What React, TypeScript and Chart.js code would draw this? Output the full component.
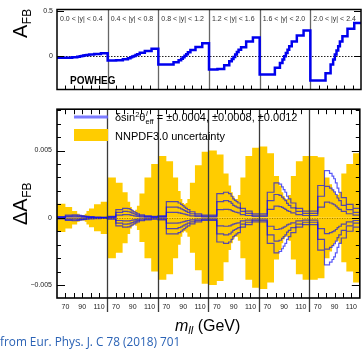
import React, { useEffect, useRef } from "react";
import { Chart, registerables } from "chart.js";
Chart.register(...registerables);

const FONT = "'Liberation Sans', Arial, Helvetica, sans-serif";

// m_ll bin edges (GeV) used in each rapidity bin
const massEdges = [60, 70, 78, 84, 87, 89, 91, 93, 95, 98, 104, 112, 120];
const rapidityBins = [
  "0.0 < |y| < 0.4",
  "0.4 < |y| < 0.8",
  "0.8 < |y| < 1.2",
  "1.2 < |y| < 1.6",
  "1.6 < |y| < 2.0",
  "2.0 < |y| < 2.4",
];
const massTickLabels = [70, 90, 110];
const topYTicks = [0, 0.5];
const bottomYTicks = [-0.005, 0, 0.005];

// POWHEG A_FB per rapidity bin
const afbPowheg = [
  [-0.02, -0.02, -0.014, -0.008, -0.004, 0.0, 0.004, 0.008, 0.011, 0.016, 0.022, 0.03],
  [-0.05, -0.048, -0.035, -0.024, -0.015, -0.007, 0.001, 0.01, 0.02, 0.035, 0.055, 0.08],
  [-0.095, -0.095, -0.068, -0.048, -0.03, -0.015, 0.002, 0.02, 0.04, 0.065, 0.1, 0.14],
  [-0.15, -0.143, -0.103, -0.059, -0.033, -0.011, 0.015, 0.044, 0.07, 0.095, 0.16, 0.205],
  [-0.205, -0.205, -0.13, -0.077, -0.04, -0.004, 0.033, 0.07, 0.107, 0.16, 0.225, 0.28],
  [-0.27, -0.27, -0.19, -0.095, -0.04, 0.015, 0.06, 0.107, 0.16, 0.217, 0.3, 0.365],
];

// NNPDF3.0 uncertainty (symmetric half-width)
const nnpdfUnc = [
  [0.00105, 0.0008, 0.0005, 0.0003, 0.0002, 0.0002, 0.0002, 0.0003, 0.0005, 0.0007, 0.001, 0.0012],
  [0.003, 0.0026, 0.0019, 0.0012, 0.0008, 0.0006, 0.0005, 0.0006, 0.0009, 0.0018, 0.003, 0.004],
  [0.0046, 0.0042, 0.003, 0.002, 0.0014, 0.0011, 0.001, 0.0011, 0.0014, 0.0026, 0.0039, 0.0049],
  [0.005, 0.0047, 0.0033, 0.0024, 0.0019, 0.0016, 0.0014, 0.0014, 0.0017, 0.003, 0.0046, 0.0052],
  [0.0053, 0.0048, 0.0031, 0.0024, 0.0019, 0.0016, 0.0014, 0.0014, 0.0017, 0.0031, 0.0042, 0.0046],
  [0.0046, 0.0045, 0.003, 0.0025, 0.0021, 0.0019, 0.0017, 0.0017, 0.0019, 0.0033, 0.004, 0.0048],
];

// Delta A_FB for delta sin^2 theta = 0.0004, 0.0008, 0.0012
const shift0004 = [
  [0.00003, 0.00007, 0.00007, 0.00007, 0.00006, 0.00005, 0.00005, 0.00004, 0.00003, 0.00003, 0.00002, 0.00001],
  [0.00003, 0.0002, 0.00023, 0.00023, 0.0002, 0.00017, 0.00015, 0.00013, 0.0001, 0.00007, 0.00005, 0.00003],
  [0.00005, 0.0004, 0.0004, 0.00037, 0.00033, 0.0003, 0.00027, 0.00023, 0.0002, 0.00015, 0.0001, 0.00007],
  [0.00007, 0.0006, 0.00063, 0.0006, 0.00053, 0.00047, 0.00043, 0.0004, 0.00037, 0.00023, 0.00017, 0.0001],
  [0.0001, 0.00063, 0.00087, 0.00083, 0.00077, 0.0007, 0.00063, 0.00053, 0.00047, 0.00037, 0.00023, 0.00017],
  [0.00017, 0.0008, 0.00117, 0.0011, 0.00103, 0.00097, 0.00087, 0.00073, 0.00063, 0.00047, 0.0003, 0.0002],
];
const shift0008 = [
  [0.00005, 0.00013, 0.00015, 0.00013, 0.00012, 0.00011, 0.0001, 0.00008, 0.00007, 0.00005, 0.00004, 0.00003],
  [0.00007, 0.0004, 0.00047, 0.00045, 0.0004, 0.00035, 0.0003, 0.00025, 0.0002, 0.00015, 0.0001, 0.00007],
  [0.0001, 0.0008, 0.0008, 0.00073, 0.00067, 0.0006, 0.00053, 0.00047, 0.0004, 0.0003, 0.0002, 0.00013],
  [0.00013, 0.0012, 0.00127, 0.0012, 0.00107, 0.00093, 0.00087, 0.0008, 0.00073, 0.00047, 0.00033, 0.0002],
  [0.0002, 0.00127, 0.00173, 0.00167, 0.00153, 0.0014, 0.00127, 0.00107, 0.00093, 0.00073, 0.00047, 0.00033],
  [0.00033, 0.0016, 0.00233, 0.0022, 0.00207, 0.00193, 0.00173, 0.00147, 0.00127, 0.00093, 0.0006, 0.0004],
];
const shift0012 = [
  [0.00008, 0.0002, 0.00022, 0.0002, 0.00018, 0.00016, 0.00014, 0.00012, 0.0001, 0.00008, 0.00006, 0.00004],
  [0.0001, 0.0006, 0.0007, 0.00068, 0.0006, 0.00052, 0.00045, 0.00038, 0.0003, 0.00022, 0.00015, 0.0001],
  [0.00015, 0.0012, 0.0012, 0.0011, 0.001, 0.0009, 0.0008, 0.0007, 0.0006, 0.00045, 0.0003, 0.0002],
  [0.0002, 0.0018, 0.0019, 0.0018, 0.0016, 0.0014, 0.0013, 0.0012, 0.0011, 0.0007, 0.0005, 0.0003],
  [0.0003, 0.0019, 0.0026, 0.0025, 0.0023, 0.0021, 0.0019, 0.0016, 0.0014, 0.0011, 0.0007, 0.0005],
  [0.0005, 0.0024, 0.0035, 0.0033, 0.0031, 0.0029, 0.0026, 0.0022, 0.0019, 0.0015, 0.001, 0.0007],
];

const SEG = 60;
const NSEG = rapidityBins.length;
const segX = (s: number, m: number) => s * SEG + (m - massEdges[0]);

function stepPoints(vals: number[][], sign: number) {
  const pts: { x: number; y: number }[] = [];
  vals.forEach((row, s) =>
    row.forEach((v, i) => {
      pts.push({ x: segX(s, massEdges[i]), y: sign * v });
      pts.push({ x: segX(s, massEdges[i + 1]), y: sign * v });
    })
  );
  return pts;
}

function seg(ctx: CanvasRenderingContext2D, x1: number, y1: number, x2: number, y2: number) {
  ctx.beginPath();
  ctx.moveTo(x1, y1);
  ctx.lineTo(x2, y2);
  ctx.stroke();
}

function innerMassTicks(): number[] {
  const v: number[] = [];
  for (let s = 0; s < NSEG; s++) for (let m = 70; m < 120; m += 10) v.push(segX(s, m));
  return v;
}

function drawYTitle(ctx: CanvasRenderingContext2D, xb: number, yb: number, main: string) {
  ctx.save();
  ctx.translate(xb, yb);
  ctx.rotate(-Math.PI / 2);
  ctx.fillStyle = "#000";
  ctx.textBaseline = "alphabetic";
  ctx.textAlign = "left";
  ctx.font = `20px ${FONT}`;
  ctx.fillText(main, 0, 0);
  const w = ctx.measureText(main).width;
  ctx.font = `12px ${FONT}`;
  ctx.fillText("FB", w + 0.5, 3.5);
  ctx.restore();
}

const topDeco = {
  id: "topDeco",
  beforeDatasetsDraw(chart: any) {
    const { ctx, chartArea: a, scales } = chart;
    const x = scales.x, y = scales.y;
    ctx.save();
    ctx.strokeStyle = "#666";
    ctx.lineWidth = 1.3;
    for (let s = 1; s < NSEG; s++) {
      const px = Math.round(x.getPixelForValue(s * SEG)) + 0.5;
      seg(ctx, px, a.top, px, a.bottom);
    }
    ctx.setLineDash([1.5, 1.5]);
    ctx.strokeStyle = "#222";
    ctx.lineWidth = 1;
    const y0 = Math.round(y.getPixelForValue(0)) + 0.5;
    seg(ctx, a.left, y0, a.right, y0);
    ctx.restore();
  },
  afterDraw(chart: any) {
    const { ctx, chartArea: a, scales } = chart;
    const x = scales.x, y = scales.y;
    ctx.save();
    ctx.strokeStyle = "#000";
    ctx.lineWidth = 1.5;
    ctx.strokeRect(a.left, a.top, a.right - a.left, a.bottom - a.top);
    ctx.lineWidth = 1;
    innerMassTicks().forEach((v) => {
      const px = Math.round(x.getPixelForValue(v)) + 0.5;
      seg(ctx, px, a.bottom, px, a.bottom - 4);
    });
    topYTicks.forEach((v) => {
      const py = Math.round(y.getPixelForValue(v)) + 0.5;
      seg(ctx, a.left, py, a.left + 7, py);
      seg(ctx, a.right, py, a.right - 7, py);
    });
    ctx.fillStyle = "#333";
    ctx.font = `7px ${FONT}`;
    ctx.textBaseline = "alphabetic";
    rapidityBins.forEach((t, s) => {
      ctx.fillText(t, x.getPixelForValue(s * SEG) + 3, a.top + 11);
    });
    ctx.fillStyle = "#000";
    ctx.font = `bold 10px ${FONT}`;
    ctx.fillText("POWHEG", 70, 84);
    ctx.restore();
    drawYTitle(ctx, 27, 38, "A");
  },
};

const bottomDeco = {
  id: "bottomDeco",
  afterDatasetsDraw(chart: any) {
    const { ctx, chartArea: a, scales } = chart;
    const x = scales.x, y = scales.y;
    ctx.save();
    ctx.setLineDash([1, 1.5]);
    ctx.strokeStyle = "#a07a00";
    ctx.lineWidth = 1;
    const y0 = Math.round(y.getPixelForValue(0)) + 0.5;
    seg(ctx, a.left, y0, a.right, y0);
    ctx.setLineDash([]);
    ctx.strokeStyle = "#3a3a3a";
    ctx.lineWidth = 1.3;
    for (let s = 1; s < NSEG; s++) {
      const px = Math.round(x.getPixelForValue(s * SEG)) + 0.5;
      seg(ctx, px, a.top, px, a.bottom + 14);
    }
    ctx.restore();
  },
  afterDraw(chart: any) {
    const { ctx, chartArea: a, scales } = chart;
    const x = scales.x, y = scales.y;
    ctx.save();
    ctx.strokeStyle = "#000";
    ctx.lineWidth = 1.6;
    ctx.strokeRect(a.left, a.top, a.right - a.left, a.bottom - a.top);
    ctx.lineWidth = 1;
    innerMassTicks().forEach((v) => {
      const px = Math.round(x.getPixelForValue(v)) + 0.5;
      seg(ctx, px, a.bottom, px, a.bottom - 5);
      seg(ctx, px, a.top, px, a.top + 5);
    });
    for (let k = -5; k <= 8; k++) {
      const v = k * 0.001;
      const py = Math.round(y.getPixelForValue(v)) + 0.5;
      const len = k % 5 === 0 ? 8 : 4;
      seg(ctx, a.left, py, a.left + len, py);
      seg(ctx, a.right, py, a.right - len, py);
    }
    // legend
    ctx.strokeStyle = "rgba(100,100,255,0.85)";
    ctx.lineWidth = 3;
    seg(ctx, 74, 17, 108, 17);
    ctx.fillStyle = "#ffcc00";
    ctx.fillRect(74, 29, 34, 12);
    ctx.fillStyle = "#000";
    ctx.textBaseline = "alphabetic";
    let tx = 115;
    const b1 = 21;
    ctx.font = `11px ${FONT}`;
    ctx.fillText("\u03b4sin", tx, b1);
    tx += ctx.measureText("\u03b4sin").width;
    ctx.font = `7.5px ${FONT}`;
    ctx.fillText("2", tx, b1 - 4.5);
    tx += ctx.measureText("2").width;
    ctx.font = `11px ${FONT}`;
    ctx.fillText("\u03b8", tx, b1);
    tx += ctx.measureText("\u03b8").width;
    ctx.font = `italic 7.5px ${FONT}`;
    ctx.fillText("l", tx + 0.5, b1 - 5);
    ctx.font = `7.5px ${FONT}`;
    ctx.fillText("eff", tx, b1 + 3);
    tx += ctx.measureText("eff").width;
    ctx.font = `11px ${FONT}`;
    ctx.fillText(" = \u00b10.0004, \u00b10.0008, \u00b10.0012", tx, b1);
    ctx.fillText("NNPDF3.0 uncertainty", 115, 40);
    // x title
    let mx = 175;
    const mb = 231;
    ctx.font = `italic 16px ${FONT}`;
    ctx.fillText("m", mx, mb);
    mx += ctx.measureText("m").width;
    ctx.font = `italic 11px ${FONT}`;
    ctx.fillText("ll", mx, mb + 3);
    mx += ctx.measureText("ll").width;
    ctx.font = `16px ${FONT}`;
    ctx.fillText(" (GeV)", mx, mb);
    ctx.restore();
    drawYTitle(ctx, 27, 125, "\u0394A");
  },
};

export default function App() {
  const topRef = useRef<HTMLCanvasElement>(null);
  const botRef = useRef<HTMLCanvasElement>(null);

  useEffect(() => {
    document.body.style.margin = "0";
    const tickFont = { family: FONT, size: 7 };
    const top = new Chart(topRef.current as HTMLCanvasElement, {
      type: "line",
      data: {
        datasets: [
          {
            data: stepPoints(afbPowheg, 1),
            borderColor: "#0000ee",
            borderWidth: 2.5,
            pointRadius: 0,
            fill: false,
            tension: 0,
          },
        ],
      },
      options: {
        animation: false,
        responsive: false,
        maintainAspectRatio: false,
        layout: { padding: { top: 9.5, bottom: 10.5, right: 1, left: 0 } },
        plugins: { legend: { display: false }, tooltip: { enabled: false } },
        scales: {
          x: { type: "linear", min: 0, max: SEG * NSEG, display: false },
          y: {
            min: -0.37,
            max: 0.513,
            grid: { display: false, drawTicks: false },
            border: { display: false },
            afterFit: (sc: any) => {
              sc.width = 57;
            },
            afterBuildTicks: (sc: any) => {
              sc.ticks = topYTicks.map((v) => ({ value: v }));
            },
            ticks: {
              padding: 4,
              font: tickFont,
              color: "#222",
              callback: (v: any) => String(v),
            },
          },
        },
      },
      plugins: [topDeco],
    } as any);

    const blueSets: any[] = [];
    [shift0004, shift0008, shift0012].forEach((sh) => {
      [1, -1].forEach((sign) => {
        blueSets.push({
          data: stepPoints(sh, sign),
          borderColor: "rgba(10,10,245,0.68)",
          borderWidth: 1.2,
          pointRadius: 0,
          fill: false,
          tension: 0,
          order: 1,
        });
      });
    });

    const bot = new Chart(botRef.current as HTMLCanvasElement, {
      type: "line",
      data: {
        datasets: [
          ...blueSets,
          {
            data: stepPoints(nnpdfUnc, 1),
            borderColor: "rgba(0,0,0,0)",
            borderWidth: 1,
            backgroundColor: "#ffcc00",
            pointRadius: 0,
            fill: "origin",
            tension: 0,
            order: 3,
          },
          {
            data: stepPoints(nnpdfUnc, -1),
            borderColor: "rgba(0,0,0,0)",
            borderWidth: 1,
            backgroundColor: "#ffcc00",
            pointRadius: 0,
            fill: "origin",
            tension: 0,
            order: 3,
          },
        ],
      },
      options: {
        animation: false,
        responsive: false,
        maintainAspectRatio: false,
        layout: { padding: { top: 5, bottom: 0, right: 1, left: 0 } },
        plugins: { legend: { display: false }, tooltip: { enabled: false } },
        scales: {
          x: {
            type: "linear",
            min: 0,
            max: SEG * NSEG,
            grid: { display: false, drawTicks: false },
            border: { display: false },
            afterFit: (sc: any) => {
              sc.height = 51;
            },
            afterBuildTicks: (sc: any) => {
              const t: any[] = [];
              for (let s = 0; s < NSEG; s++) massTickLabels.forEach((m) => t.push({ value: segX(s, m) }));
              sc.ticks = t;
            },
            ticks: {
              autoSkip: false,
              maxRotation: 0,
              minRotation: 0,
              padding: 5,
              font: tickFont,
              color: "#222",
              callback: (v: any) => String(massEdges[0] + (((Number(v) % SEG) + SEG) % SEG)),
            },
          },
          y: {
            min: -0.00596,
            max: 0.00807,
            grid: { display: false, drawTicks: false },
            border: { display: false },
            afterFit: (sc: any) => {
              sc.width = 57;
            },
            afterBuildTicks: (sc: any) => {
              sc.ticks = bottomYTicks.map((v) => ({ value: v }));
            },
            ticks: {
              padding: 5,
              font: tickFont,
              color: "#222",
              callback: (v: any) => {
                const n = Number(v);
                if (Math.abs(n) < 1e-12) return "0";
                return (n < 0 ? "\u2212" : "") + Math.abs(n).toFixed(3);
              },
            },
          },
        },
      },
      plugins: [bottomDeco],
    } as any);

    return () => {
      top.destroy();
      bot.destroy();
    };
  }, []);

  return (
    <div style={{ position: "fixed", left: 0, top: 0, width: 362, height: 349, overflow: "hidden", background: "#fff" }}>
      <canvas ref={topRef} width={362} height={100} style={{ position: "absolute", left: 0, top: 0, width: 362, height: 100 }} />
      <canvas ref={botRef} width={362} height={249} style={{ position: "absolute", left: 0, top: 100, width: 362, height: 249 }} />
      <div
        style={{
          position: "absolute",
          left: 0,
          top: 334,
          fontFamily: "'Open Sans', sans-serif",
          fontSize: 11.8,
          lineHeight: "14px",
          color: "#2a62b5",
          whiteSpace: "nowrap",
        }}
      >
        from Eur. Phys. J. C 78 (2018) 701
      </div>
    </div>
  );
}
